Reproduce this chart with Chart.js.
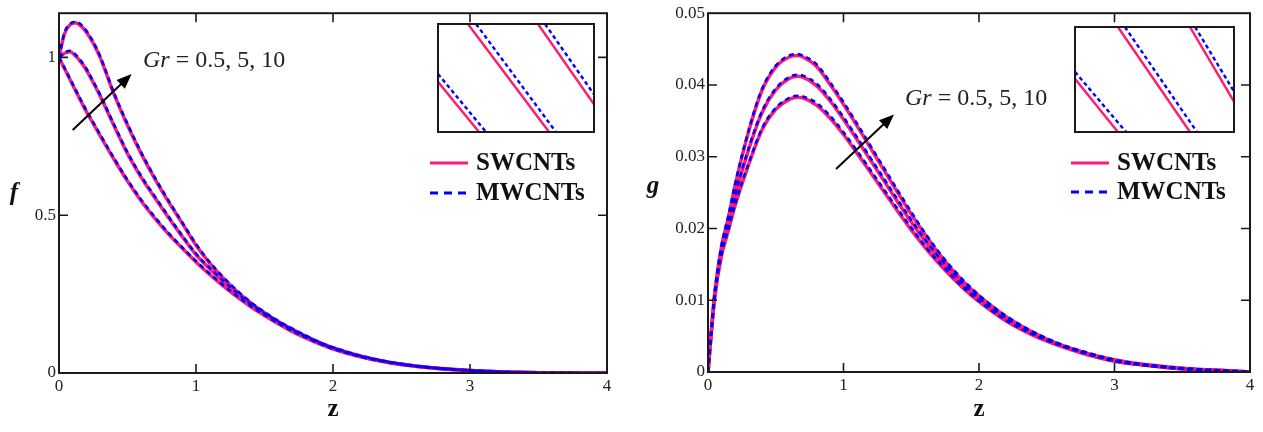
<!DOCTYPE html>
<html>
<head>
<meta charset="utf-8">
<script src="https://cdn.jsdelivr.net/npm/chart.js@4.4.1/dist/chart.umd.min.js"></script>
<style>
  body { margin: 0; background: #fff; }
  #wrap { position: relative; width: 1263px; height: 432px; }
  canvas { position: absolute; }
</style>
</head>
<body>
<div id="wrap">
  <canvas id="fChart" width="630" height="432" style="left:0;top:0"></canvas>
  <canvas id="gChart" width="623" height="432" style="left:640px;top:0"></canvas>
  <canvas id="fInset" width="158" height="110" style="left:437px;top:23px"></canvas>
  <canvas id="gInset" width="161" height="107" style="left:1074px;top:26px"></canvas>
</div>
<script>
const grValues = [0.5, 5, 10];

// f(z)
const zF = [0, 0.04, 0.08, 0.12, 0.16, 0.2, 0.25, 0.3, 0.4, 0.5, 0.6, 0.7, 0.8, 0.9, 1.0, 1.1, 1.2, 1.3, 1.4, 1.5, 1.6, 1.7, 1.8, 1.9, 2.0, 2.2, 2.4, 2.6, 2.8, 3.0, 3.2, 3.5, 4.0];
const fSW_05 = [1.000, 0.965, 0.930, 0.895, 0.861, 0.828, 0.790, 0.752, 0.678, 0.608, 0.545, 0.490, 0.440, 0.395, 0.352, 0.312, 0.275, 0.241, 0.210, 0.182, 0.156, 0.132, 0.111, 0.092, 0.076, 0.051, 0.033, 0.021, 0.013, 0.008, 0.004, 0.001, 0.000];
const fSW_5  = [1.000, 1.013, 1.018, 1.005, 0.985, 0.960, 0.920, 0.878, 0.785, 0.695, 0.620, 0.555, 0.492, 0.432, 0.375, 0.330, 0.289, 0.251, 0.217, 0.187, 0.160, 0.136, 0.114, 0.095, 0.078, 0.052, 0.034, 0.022, 0.013, 0.008, 0.004, 0.001, 0.000];
const fSW_10 = [1.000, 1.075, 1.103, 1.110, 1.100, 1.080, 1.045, 1.000, 0.885, 0.785, 0.695, 0.615, 0.542, 0.474, 0.405, 0.348, 0.300, 0.258, 0.222, 0.191, 0.163, 0.139, 0.117, 0.097, 0.080, 0.054, 0.035, 0.022, 0.014, 0.008, 0.004, 0.001, 0.000];
const fMW_05 = [1.000, 0.967, 0.933, 0.899, 0.865, 0.832, 0.794, 0.756, 0.682, 0.612, 0.549, 0.494, 0.443, 0.398, 0.355, 0.315, 0.278, 0.244, 0.212, 0.184, 0.158, 0.134, 0.113, 0.094, 0.077, 0.052, 0.034, 0.022, 0.013, 0.008, 0.004, 0.001, 0.000];
const fMW_5  = [1.000, 1.015, 1.021, 1.009, 0.989, 0.964, 0.924, 0.882, 0.789, 0.699, 0.624, 0.559, 0.496, 0.435, 0.378, 0.333, 0.292, 0.254, 0.219, 0.189, 0.162, 0.138, 0.116, 0.096, 0.079, 0.053, 0.035, 0.022, 0.014, 0.008, 0.004, 0.001, 0.000];
const fMW_10 = [1.000, 1.078, 1.106, 1.113, 1.104, 1.084, 1.049, 1.004, 0.889, 0.789, 0.699, 0.619, 0.546, 0.477, 0.409, 0.351, 0.303, 0.261, 0.224, 0.193, 0.165, 0.141, 0.119, 0.098, 0.081, 0.055, 0.036, 0.023, 0.014, 0.008, 0.004, 0.001, 0.000];

// g(z)
const zG = [0, 0.025, 0.05, 0.1, 0.15, 0.2, 0.3, 0.4, 0.5, 0.6, 0.66, 0.7, 0.8, 0.9, 1.0, 1.1, 1.2, 1.3, 1.4, 1.5, 1.6, 1.7, 1.8, 1.9, 2.0, 2.2, 2.4, 2.6, 2.8, 3.0, 3.2, 3.4, 3.6, 3.8, 4.0];
const gSW_05 = [0, 0.0056, 0.0104, 0.0162, 0.0197, 0.0232, 0.0289, 0.0338, 0.0366, 0.0380, 0.0383, 0.0382, 0.0372, 0.0354, 0.0331, 0.0305, 0.0278, 0.0251, 0.0224, 0.0198, 0.0174, 0.0152, 0.0132, 0.0114, 0.0098, 0.0071, 0.0051, 0.0036, 0.0024, 0.0015, 0.0010, 0.0006, 0.0003, 0.0002, 0];
const gSW_5  = [0, 0.0057, 0.0107, 0.0168, 0.0205, 0.0245, 0.0310, 0.0362, 0.0393, 0.0409, 0.0412, 0.0411, 0.0399, 0.0378, 0.0352, 0.0324, 0.0295, 0.0266, 0.0237, 0.0209, 0.0183, 0.0159, 0.0138, 0.0119, 0.0102, 0.0074, 0.0053, 0.0037, 0.0025, 0.0016, 0.0010, 0.0006, 0.0004, 0.0002, 0];
const gSW_10 = [0, 0.0058, 0.0110, 0.0175, 0.0215, 0.0260, 0.0335, 0.0393, 0.0425, 0.0439, 0.0441, 0.0439, 0.0426, 0.0401, 0.0373, 0.0343, 0.0312, 0.0281, 0.0250, 0.0220, 0.0192, 0.0166, 0.0143, 0.0123, 0.0106, 0.0077, 0.0055, 0.0038, 0.0026, 0.0017, 0.0011, 0.0007, 0.0004, 0.0002, 0];
const gMW_05 = [0, 0.0057, 0.0106, 0.0164, 0.0199, 0.0234, 0.0291, 0.0340, 0.0368, 0.0382, 0.0385, 0.0384, 0.0375, 0.0357, 0.0334, 0.0308, 0.0281, 0.0254, 0.0227, 0.0201, 0.0176, 0.0154, 0.0134, 0.0115, 0.0099, 0.0072, 0.0052, 0.0037, 0.0025, 0.0015, 0.0010, 0.0006, 0.0003, 0.0002, 0];
const gMW_5  = [0, 0.0058, 0.0109, 0.0170, 0.0207, 0.0247, 0.0312, 0.0364, 0.0395, 0.0411, 0.0414, 0.0413, 0.0402, 0.0381, 0.0355, 0.0327, 0.0298, 0.0269, 0.0240, 0.0212, 0.0185, 0.0161, 0.0140, 0.0120, 0.0103, 0.0075, 0.0054, 0.0038, 0.0026, 0.0016, 0.0010, 0.0006, 0.0004, 0.0002, 0];
const gMW_10 = [0, 0.0059, 0.0112, 0.0177, 0.0217, 0.0262, 0.0337, 0.0395, 0.0427, 0.0441, 0.0443, 0.0441, 0.0429, 0.0404, 0.0376, 0.0346, 0.0315, 0.0284, 0.0253, 0.0223, 0.0194, 0.0168, 0.0145, 0.0125, 0.0107, 0.0078, 0.0056, 0.0039, 0.0027, 0.0017, 0.0011, 0.0007, 0.0004, 0.0002, 0];

// insets: magnified pieces of the three curves, [x0, y0, x1, y1] in inset units
const fInsetSW = [[0, 0.465, 0.263, 0], [0.192, 1, 0.712, 0], [0.641, 1, 1, 0.257]];
const fInsetMW = [[0, 0.538, 0.308, 0], [0.244, 1, 0.756, 0], [0.686, 1, 1, 0.348]];
const gInsetSW = [[0, 0.506, 0.270, 0], [0.270, 1, 0.723, 0], [0.723, 1, 1, 0.290]];
const gInsetMW = [[0, 0.573, 0.321, 0], [0.314, 1, 0.767, 0], [0.755, 1, 1, 0.385]];

const pink = '#FF1A72';
const blue = '#0000FF';
const serif = '"Liberation Serif", "Times New Roman", serif';

// frame round the plot area with small inward ticks
const framePlugin = {
    id: 'frame',
    beforeDraw(chart, args, opts) {
        if (!opts.fill) return;
        const {ctx, width, height} = chart;
        ctx.save();
        ctx.fillStyle = opts.fill;
        ctx.fillRect(0, 0, width, height);
        ctx.restore();
    },
    afterDatasetsDraw(chart, args, opts) {
        const {ctx, chartArea: a} = chart;
        ctx.save();
        ctx.strokeStyle = '#1a1a1a';
        ctx.lineWidth = 2;
        ctx.strokeRect(a.left, a.top, a.right - a.left, a.bottom - a.top);
        const len = opts.tickLength || 0;
        if (len) {
            const {x, y} = chart.scales;
            ctx.lineWidth = 1.6;
            ctx.beginPath();
            x.ticks.forEach(t => {
                const px = x.getPixelForValue(t.value);
                if (px < a.left + 2 || px > a.right - 2) return;
                ctx.moveTo(px, a.bottom); ctx.lineTo(px, a.bottom - len);
                ctx.moveTo(px, a.top); ctx.lineTo(px, a.top + len);
            });
            y.ticks.forEach(t => {
                const py = y.getPixelForValue(t.value);
                if (py < a.top + 2 || py > a.bottom - 2) return;
                ctx.moveTo(a.left, py); ctx.lineTo(a.left + len, py);
                ctx.moveTo(a.right, py); ctx.lineTo(a.right - len, py);
            });
            ctx.stroke();
        }
        ctx.restore();
    }
};

// upright y axis letter
const yLetterPlugin = {
    id: 'yLetter',
    afterDraw(chart, args, opts) {
        if (!opts.text) return;
        const {ctx, chartArea: a} = chart;
        ctx.save();
        ctx.font = 'bold italic 25px ' + serif;
        ctx.fillStyle = '#111';
        ctx.textAlign = 'center';
        ctx.textBaseline = 'middle';
        ctx.fillText(opts.text, opts.x, (a.top + a.bottom) / 2 + (opts.dy || 0));
        ctx.restore();
    }
};

// legend inside the plot
const curveLegendPlugin = {
    id: 'curveLegend',
    afterDraw(chart, args, opts) {
        if (!opts.x) return;
        const {ctx} = chart;
        const items = [];
        chart.data.datasets.forEach(ds => {
            if (!items.find(it => it.label === ds.label)) items.push(ds);
        });
        ctx.save();
        ctx.font = 'bold 25px ' + serif;
        ctx.textBaseline = 'middle';
        ctx.fillStyle = '#111';
        items.forEach((ds, i) => {
            const yy = opts.y + i * opts.gap;
            ctx.strokeStyle = ds.borderColor;
            ctx.lineWidth = 3;
            ctx.setLineDash(ds.borderDash ? [8, 6] : []);
            ctx.beginPath();
            ctx.moveTo(opts.x, yy);
            ctx.lineTo(opts.x + 38, yy);
            ctx.stroke();
            ctx.setLineDash([]);
            ctx.fillText(ds.label, opts.x + 46, yy + 1);
        });
        ctx.restore();
    }
};

// "Gr = 0.5, 5, 10" with arrow, placed in data units
const grNotePlugin = {
    id: 'grNote',
    afterDraw(chart, args, o) {
        if (!o.tail) return;
        const {ctx, scales: {x, y}} = chart;
        const x0 = x.getPixelForValue(o.tail[0]), y0 = y.getPixelForValue(o.tail[1]);
        const x1 = x.getPixelForValue(o.head[0]), y1 = y.getPixelForValue(o.head[1]);
        const c = Math.cos(Math.atan2(y1 - y0, x1 - x0));
        const s = Math.sin(Math.atan2(y1 - y0, x1 - x0));
        ctx.save();
        ctx.strokeStyle = '#000';
        ctx.fillStyle = '#000';
        ctx.lineWidth = 2;
        ctx.beginPath();
        ctx.moveTo(x0, y0);
        ctx.lineTo(x1 - 10 * c, y1 - 10 * s);
        ctx.stroke();
        ctx.beginPath();
        ctx.moveTo(x1, y1);
        ctx.lineTo(x1 - 15 * c + 6 * s, y1 - 15 * s - 6 * c);
        ctx.lineTo(x1 - 15 * c - 6 * s, y1 - 15 * s + 6 * c);
        ctx.closePath();
        ctx.fill();

        let tx = x.getPixelForValue(o.label[0]);
        const ty = y.getPixelForValue(o.label[1]);
        ctx.fillStyle = '#222';
        ctx.textBaseline = 'alphabetic';
        ctx.font = 'italic 24px ' + serif;
        ctx.fillText('Gr', tx, ty);
        tx += ctx.measureText('Gr').width;
        ctx.font = '24px ' + serif;
        ctx.fillText(' = ' + grValues.join(', '), tx, ty);
        ctx.restore();
    }
};

Chart.register(framePlugin, yLetterPlugin, curveLegendPlugin, grNotePlugin);

const makeSets = (z, swList, mwList) => {
    const sets = [];
    swList.forEach(v => sets.push({
        label: 'SWCNTs',
        data: z.map((zz, i) => ({x: zz, y: v[i]})),
        borderColor: pink,
        borderWidth: 3.5,
        order: 2
    }));
    mwList.forEach(v => sets.push({
        label: 'MWCNTs',
        data: z.map((zz, i) => ({x: zz, y: v[i]})),
        borderColor: blue,
        borderWidth: 2.6,
        borderDash: [5, 4],
        order: 1
    }));
    return sets;
};

const tickFont = {family: serif, size: 17};

const mainOptions = (yMax, yStep, yWidth, xHeight, padding, extra) => ({
    responsive: false,
    animation: false,
    events: [],
    layout: {padding: padding},
    elements: {
        point: {radius: 0},
        line: {cubicInterpolationMode: 'monotone', fill: false}
    },
    scales: {
        x: {
            type: 'linear',
            min: 0,
            max: 4,
            ticks: {stepSize: 1, color: '#222', font: tickFont, padding: 3, maxRotation: 0},
            grid: {display: false, drawTicks: false},
            border: {display: false},
            title: {
                display: true,
                text: 'z',
                color: '#111',
                font: {family: serif, size: 25, weight: 'bold'},
                padding: {top: 0, bottom: 7}
            },
            afterFit(scale) { scale.height = xHeight; }
        },
        y: {
            type: 'linear',
            min: 0,
            max: yMax,
            ticks: {
                stepSize: yStep,
                includeBounds: false,
                color: '#222',
                font: tickFont,
                padding: 3,
                callback: v => String(+v.toFixed(4))
            },
            grid: {display: false, drawTicks: false},
            border: {display: false},
            afterFit(scale) { scale.width = yWidth; }
        }
    },
    plugins: Object.assign({
        legend: {display: false},
        tooltip: {enabled: false},
        frame: {tickLength: 9}
    }, extra)
});

new Chart(document.getElementById('fChart'), {
    type: 'line',
    data: {datasets: makeSets(zF, [fSW_05, fSW_5, fSW_10], [fMW_05, fMW_5, fMW_10])},
    options: mainOptions(1.14, 0.5, 59, 59, {left: 0, right: 23, top: 7, bottom: 0}, {
        yLetter: {text: 'f', x: 14, dy: 0},
        curveLegend: {x: 430, y: 163, gap: 30},
        grNote: {tail: [0.10, 0.77], head: [0.53, 0.947], label: [0.613, 0.969]}
    })
});

new Chart(document.getElementById('gChart'), {
    type: 'line',
    data: {datasets: makeSets(zG, [gSW_05, gSW_5, gSW_10], [gMW_05, gMW_5, gMW_10])},
    options: mainOptions(0.05, 0.01, 68, 60, {left: 0, right: 13, top: 10, bottom: 0}, {
        yLetter: {text: 'g', x: 13, dy: -6},
        curveLegend: {x: 431, y: 163, gap: 29},
        grNote: {tail: [0.945, 0.0283], head: [1.373, 0.0359], label: [1.454, 0.0372]}
    })
});

const insetSets = (sw, mw) => {
    const toPoints = segs => {
        const pts = [];
        segs.forEach(s => {
            pts.push({x: s[0], y: s[1]}, {x: s[2], y: s[3]}, {x: s[2], y: null});
        });
        return pts;
    };
    return [
        {label: 'SWCNTs', data: toPoints(sw), borderColor: pink, borderWidth: 2.4, order: 2},
        {label: 'MWCNTs', data: toPoints(mw), borderColor: blue, borderWidth: 2.4, borderDash: [4, 3], order: 1}
    ];
};

const insetOptions = {
    responsive: false,
    animation: false,
    events: [],
    layout: {padding: 1},
    elements: {point: {radius: 0}},
    scales: {
        x: {type: 'linear', min: 0, max: 1, display: false},
        y: {type: 'linear', min: 0, max: 1, display: false}
    },
    plugins: {
        legend: {display: false},
        tooltip: {enabled: false},
        frame: {tickLength: 0, fill: '#fff'}
    }
};

new Chart(document.getElementById('fInset'), {
    type: 'line',
    data: {datasets: insetSets(fInsetSW, fInsetMW)},
    options: insetOptions
});

new Chart(document.getElementById('gInset'), {
    type: 'line',
    data: {datasets: insetSets(gInsetSW, gInsetMW)},
    options: insetOptions
});
</script>
</body>
</html>
